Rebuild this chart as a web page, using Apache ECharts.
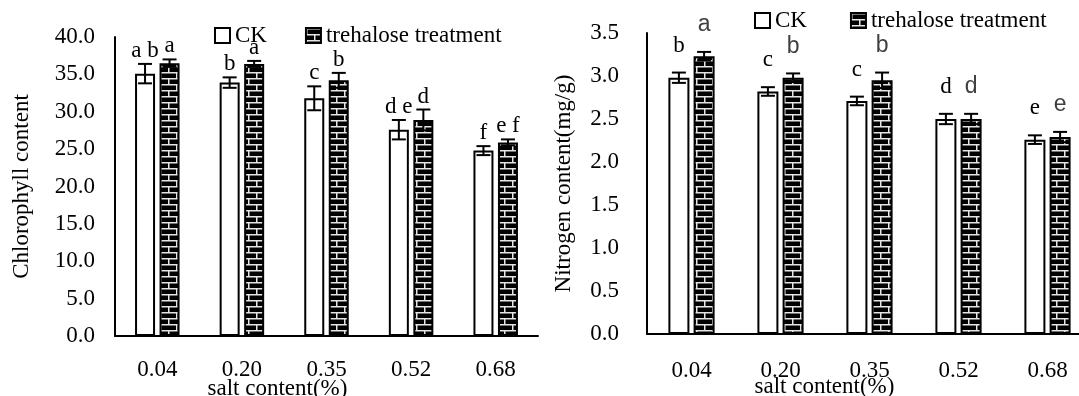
<!DOCTYPE html>
<html><head><meta charset="utf-8">
<script src="https://cdn.jsdelivr.net/npm/echarts@6/dist/echarts.min.js"></script>
<style>html,body{margin:0;padding:0;background:#fff}#c{width:1079px;height:396px}</style>
</head><body><div id="c"></div>
<script>
// ---- data ----
const categories = ['0.04', '0.20', '0.35', '0.52', '0.68'];
const seriesNames = ['CK', 'trehalose treatment'];

const chlTicks = ['0.0','5.0','10.0','15.0','20.0','25.0','30.0','35.0','40.0'];
const chlCK = [35.1, 33.9, 31.8, 27.6, 24.8];
const chlCKErr = [1.3, 0.7, 1.6, 1.3, 0.6];
const chlTre = [36.5, 36.4, 34.2, 28.9, 25.9];
const chlTreErr = [0.5, 0.4, 1.0, 1.4, 0.4];
const chlCKLetters = ['a b', 'b', 'c', 'd e', 'f'];
const chlTreLetters = ['a', 'a', 'b', 'd', 'e f'];

const nTicks = ['0.0','0.5','1.0','1.5','2.0','2.5','3.0','3.5'];
const nCK = [2.98, 2.82, 2.71, 2.50, 2.26];
const nCKErr = [0.06, 0.05, 0.05, 0.06, 0.05];
const nTre = [3.23, 2.98, 2.95, 2.50, 2.29];
const nTreErr = [0.05, 0.05, 0.09, 0.06, 0.06];
const nCKLetters = ['b', 'c', 'c', 'd', 'e'];
const nTreLetters = ['a', 'b', 'b', 'd', 'e'];

// ---- styles ----
const SERIF = 'Liberation Serif';
const SANS = 'Liberation Sans';
const FS = 23;

function brickPattern() {
  const cv = document.createElement('canvas');
  cv.width = 16; cv.height = 12;
  const g = cv.getContext('2d');
  g.fillStyle = '#000'; g.fillRect(0, 0, 16, 12);
  g.fillStyle = '#e6e6e6';
  g.fillRect(0, 0, 16, 1.5);
  g.fillRect(0, 6, 16, 1.5);
  g.fillRect(0, 0, 1.5, 6);
  g.fillRect(8, 6, 1.5, 6);
  return cv;
}
const pattern = { image: brickPattern(), repeat: 'repeat' };

function errRender(vals, errs, letters, offset, capHalf, gap, font, color) {
  return function (params, api) {
    const i = params.dataIndex;
    const x = api.coord([i, vals[i]])[0] + offset;
    const yTop = api.coord([i, vals[i] + errs[i]])[1];
    const yBot = api.coord([i, vals[i] - errs[i]])[1];
    const st = { stroke: '#000', lineWidth: 2 };
    return {
      type: 'group', children: [
        { type: 'line', shape: { x1: x, y1: yTop, x2: x, y2: yBot }, style: st },
        { type: 'line', shape: { x1: x - capHalf, y1: yTop, x2: x + capHalf, y2: yTop }, style: st },
        { type: 'line', shape: { x1: x - capHalf, y1: yBot, x2: x + capHalf, y2: yBot }, style: st },
        { type: 'text', x: x, y: yTop - gap,
          style: { text: letters[i], font: font, fill: color, align: 'center', verticalAlign: 'middle' } }
      ]
    };
  };
}

function yAxisCfg(grid, ticks, name, labelMargin, nameGap) {
  const vals = ticks.map(Number);
  return {
    type: 'value', gridIndex: grid,
    min: vals[0], max: vals[vals.length - 1], interval: vals[1] - vals[0],
    name: name, nameLocation: 'middle', nameGap: nameGap, nameMoveOverlap: false,
    nameTextStyle: { fontFamily: SERIF, fontSize: FS, color: '#000' },
    axisLine: { show: true, lineStyle: { color: '#000', width: 2 } },
    axisTick: { show: false },
    splitLine: { show: false },
    axisLabel: { margin: labelMargin, fontFamily: SERIF, fontSize: FS, color: '#000',
      formatter: v => ticks[Math.round((v - vals[0]) / (vals[1] - vals[0]))] }
  };
}
function xAxisCfg(grid, labelMargin, nameGap, shift) {
  return {
    type: 'category', gridIndex: grid, data: categories,
    name: 'salt content(%)', nameLocation: 'middle', nameGap: nameGap, nameMoveOverlap: false,
    nameTextStyle: { fontFamily: SERIF, fontSize: FS, color: '#000', padding: [0, shift, 0, 0] },
    axisLine: { show: true, lineStyle: { color: '#000', width: 2 } },
    axisTick: { show: false },
    axisLabel: { margin: labelMargin, fontFamily: SERIF, fontSize: FS, color: '#000' }
  };
}

const ckStyle = { color: '#fff', borderColor: '#000', borderWidth: 2 };
const treStyle = { color: pattern, borderColor: '#000', borderWidth: 2 };

const option = {
  animation: false,
  backgroundColor: '#fff',
  grid: [
    { left: 115, top: 37, width: 423, height: 299, outerBoundsMode: 'none', containLabel: false },
    { left: 647, top: 33, width: 445, height: 301, outerBoundsMode: 'none', containLabel: false }
  ],
  legend: [
    { left: 214, top: 24, padding: 0, icon: 'rect', itemWidth: 15, itemHeight: 15, itemGap: 38, data: seriesNames,
      textStyle: { fontFamily: SERIF, fontSize: FS, color: '#000' } },
    { left: 754, top: 9, padding: 0, icon: 'rect', itemWidth: 15, itemHeight: 15, itemGap: 43, data: seriesNames,
      textStyle: { fontFamily: SERIF, fontSize: FS, color: '#000' } }
  ],
  xAxis: [xAxisCfg(0, 22, 41, 98), xAxisCfg(1, 25, 41, 90)],
  yAxis: [
    yAxisCfg(0, chlTicks, 'Chlorophyll content', 20, 82),
    yAxisCfg(1, nTicks, 'Nitrogen content(mg/g)', 28, 72)
  ],
  series: [
    { name: seriesNames[0], type: 'bar', xAxisIndex: 0, yAxisIndex: 0, data: chlCK,
      barWidth: 20, barGap: '22.5%', itemStyle: ckStyle },
    { name: seriesNames[1], type: 'bar', xAxisIndex: 0, yAxisIndex: 0, data: chlTre,
      barWidth: 20, barGap: '22.5%', itemStyle: treStyle },
    { name: seriesNames[0], type: 'bar', xAxisIndex: 1, yAxisIndex: 1, data: nCK,
      barWidth: 21, barGap: '20%', itemStyle: ckStyle },
    { name: seriesNames[1], type: 'bar', xAxisIndex: 1, yAxisIndex: 1, data: nTre,
      barWidth: 21, barGap: '20%', itemStyle: treStyle },
    { type: 'custom', xAxisIndex: 0, yAxisIndex: 0, z: 5, data: chlCK.map((v, i) => [i, v]),
      renderItem: errRender(chlCK, chlCKErr, chlCKLetters, -12.25, 7, 13, FS + 'px "' + SERIF + '"', '#000') },
    { type: 'custom', xAxisIndex: 0, yAxisIndex: 0, z: 5, data: chlTre.map((v, i) => [i, v]),
      renderItem: errRender(chlTre, chlTreErr, chlTreLetters, 12.25, 7, 13, FS + 'px "' + SERIF + '"', '#000') },
    { type: 'custom', xAxisIndex: 1, yAxisIndex: 1, z: 5, data: nCK.map((v, i) => [i, v]),
      renderItem: errRender(nCK, nCKErr, nCKLetters, -12.6, 7, 27, FS + 'px "' + SERIF + '"', '#000') },
    { type: 'custom', xAxisIndex: 1, yAxisIndex: 1, z: 5, data: nTre.map((v, i) => [i, v]),
      renderItem: errRender(nTre, nTreErr, nTreLetters, 12.6, 7, 27, FS + 'px "' + SANS + '"', '#404040') }
  ]
};
const chart = echarts.init(document.getElementById('c'), null, { renderer: 'canvas' });
chart.setOption(option);
</script>
</body></html>
